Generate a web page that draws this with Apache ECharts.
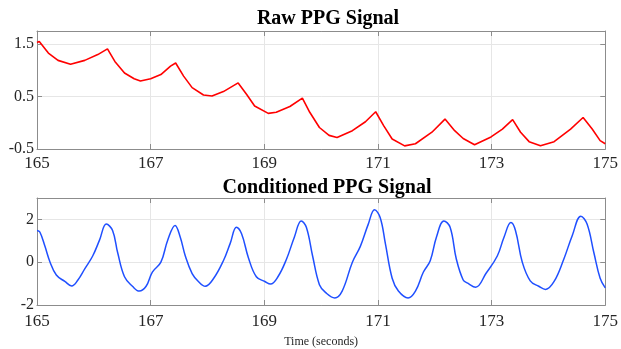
<!DOCTYPE html>
<html>
<head>
<meta charset="utf-8">
<script src="https://cdn.jsdelivr.net/npm/echarts@6/dist/echarts.min.js"></script>
<style>
  html, body { margin: 0; padding: 0; background: #fff; }
  #chart { width: 621px; height: 349px; }
</style>
</head>
<body>
<div id="chart"></div>
<script>
// raw PPG
const rawTime = [165.0, 165.04, 165.2, 165.37, 165.59, 165.84, 166.07, 166.24, 166.37, 166.54, 166.71, 166.82,
  167.0, 167.18, 167.35, 167.44, 167.58, 167.73, 167.93, 168.08, 168.28, 168.54, 168.69, 168.83, 169.07,
  169.21, 169.45, 169.67, 169.8, 169.97, 170.14, 170.28, 170.55, 170.78, 170.96, 171.1, 171.25, 171.47,
  171.66, 171.95, 172.18, 172.35, 172.5, 172.7, 172.99, 173.19, 173.37, 173.51, 173.66, 173.86, 174.1,
  174.39, 174.61, 174.77, 174.91, 175.0];
const rawValue = [1.53, 1.55, 1.33, 1.19, 1.115, 1.19, 1.3, 1.41, 1.17, 0.95, 0.84, 0.795,
  0.84, 0.92, 1.08, 1.14, 0.89, 0.67, 0.53, 0.51, 0.595, 0.76, 0.54, 0.32, 0.18,
  0.2, 0.31, 0.47, 0.2, -0.09, -0.24, -0.28, -0.15, 0.02, 0.21, -0.055, -0.31, -0.44,
  -0.4, -0.18, 0.07, -0.15, -0.3, -0.42, -0.27, -0.12, 0.06, -0.18, -0.36, -0.44, -0.36,
  -0.12, 0.1, -0.12, -0.34, -0.4];

// conditioned PPG
const condTime = [165.0, 165.05, 165.14, 165.23, 165.34, 165.49, 165.61, 165.72, 165.84, 165.98, 166.1, 166.22,
  166.33, 166.42, 166.54, 166.68, 166.8, 166.92, 167.03, 167.18, 167.3, 167.43, 167.52, 167.61, 167.73,
  167.84, 167.96, 168.11, 168.28, 168.4, 168.51, 168.6, 168.72, 168.86, 169.01, 169.11, 169.24, 169.39,
  169.53, 169.65, 169.74, 169.85, 169.97, 170.08, 170.24, 170.37, 170.55, 170.69, 170.83, 170.94, 171.04,
  171.13, 171.25, 171.36, 171.53, 171.66, 171.8, 171.92, 172.03, 172.16, 172.27, 172.38, 172.5, 172.58,
  172.72, 172.9, 173.1, 173.22, 173.34, 173.42, 173.54, 173.68, 173.83, 173.95, 174.1, 174.27, 174.42,
  174.57, 174.68, 174.8, 174.91, 175.0];
const condValue = [1.48, 1.41, 0.74, 0.0, -0.6, -0.9, -1.11, -0.83, -0.31, 0.29, 1.03, 1.78,
  1.48, 0.44, -0.68, -1.125, -1.35, -1.125, -0.46, 0.0, 1.03, 1.72, 1.18, 0.29, -0.53,
  -0.9, -1.125, -0.75, 0.07, 0.88, 1.63, 1.33, 0.21, -0.68, -0.9, -1.02, -0.68, 0.14,
  1.18, 1.93, 1.63, 0.29, -1.05, -1.42, -1.67, -1.35, 0.0, 0.74, 1.78, 2.45, 2.08,
  0.88, -0.75, -1.35, -1.67, -1.35, -0.46, 0.07, 1.18, 1.93, 1.63, 0.14, -0.83, -0.98,
  -1.17, -0.53, 0.29, 1.18, 1.85, 1.48, 0.0, -0.87, -1.125, -1.27, -0.9, 0.14, 1.25,
  2.15, 1.78, 0.44, -0.75, -1.2];

const xMin = 165, xMax = 175, xStep = 2;

const serif = 'Liberation Serif';
const boxColor = '#8c8c8c';
const gridColor = '#e6e6e6';

const pair = (t, v) => t.map((x, i) => [x, v[i]]);

const chart = echarts.init(document.getElementById('chart'));

function xAx(gridIndex, top, margin) {
  return {
    type: 'value', gridIndex, min: xMin, max: xMax, interval: xStep,
    position: top ? 'top' : 'bottom',
    axisLine: { show: true, onZero: false, lineStyle: { color: boxColor, width: 1 } },
    axisTick: { show: true, inside: true, length: 5, lineStyle: { color: boxColor } },
    axisLabel: {
      show: !top, color: '#262626', fontFamily: serif, fontSize: 17, margin: margin || 6,
    },
    splitLine: { show: !top, lineStyle: { color: gridColor, width: 1 } },
  };
}

function yAx(gridIndex, right, min, max, interval) {
  return {
    type: 'value', gridIndex, min, max, interval,
    position: right ? 'right' : 'left',
    axisLine: { show: true, onZero: false, lineStyle: { color: boxColor, width: 1 } },
    axisTick: { show: true, inside: true, length: 5, lineStyle: { color: boxColor } },
    axisLabel: {
      show: !right, color: '#262626', fontFamily: serif, fontSize: 16, margin: 3,
      showMaxLabel: false,
    },
    splitLine: { show: !right, lineStyle: { color: gridColor, width: 1 } },
  };
}

const option = {
  backgroundColor: '#fff',
  animation: false,
  title: [
    {
      text: 'Raw PPG Signal', left: 323, top: 4, textAlign: 'center',
      textStyle: { fontFamily: serif, fontWeight: 'bold', fontSize: 20, color: '#000' },
    },
    {
      text: 'Conditioned PPG Signal', left: 322, top: 173, textAlign: 'center',
      textStyle: { fontFamily: serif, fontWeight: 'bold', fontSize: 20, color: '#000' },
    },
  ],
  grid: [
    { left: 37, right: 12, top: 31, height: 118 },
    { left: 37, right: 12, top: 198, height: 112 },
  ],
  xAxis: [
    xAx(0, false, 6), xAx(0, true),
    Object.assign(xAx(1, false, 8), {
      name: 'Time (seconds)', nameLocation: 'middle', nameGap: 31,
      nameTextStyle: { fontFamily: serif, fontSize: 12, color: '#262626' },
    }),
    xAx(1, true),
  ],
  yAxis: [
    yAx(0, false, -0.5, 1.75, 1), yAx(0, true, -0.5, 1.75, 1),
    yAx(1, false, -2, 3, 2), yAx(1, true, -2, 3, 2),
  ],
  series: [
    {
      type: 'line', xAxisIndex: 0, yAxisIndex: 0, data: pair(rawTime, rawValue),
      showSymbol: false, lineStyle: { color: '#ff0000', width: 1.6 },
    },
    {
      type: 'line', xAxisIndex: 2, yAxisIndex: 2, data: pair(condTime, condValue),
      showSymbol: false, smooth: 0.4, lineStyle: { color: '#1f4fff', width: 1.5 },
    },
  ],
};
chart.setOption(option);
</script>
</body>
</html>
